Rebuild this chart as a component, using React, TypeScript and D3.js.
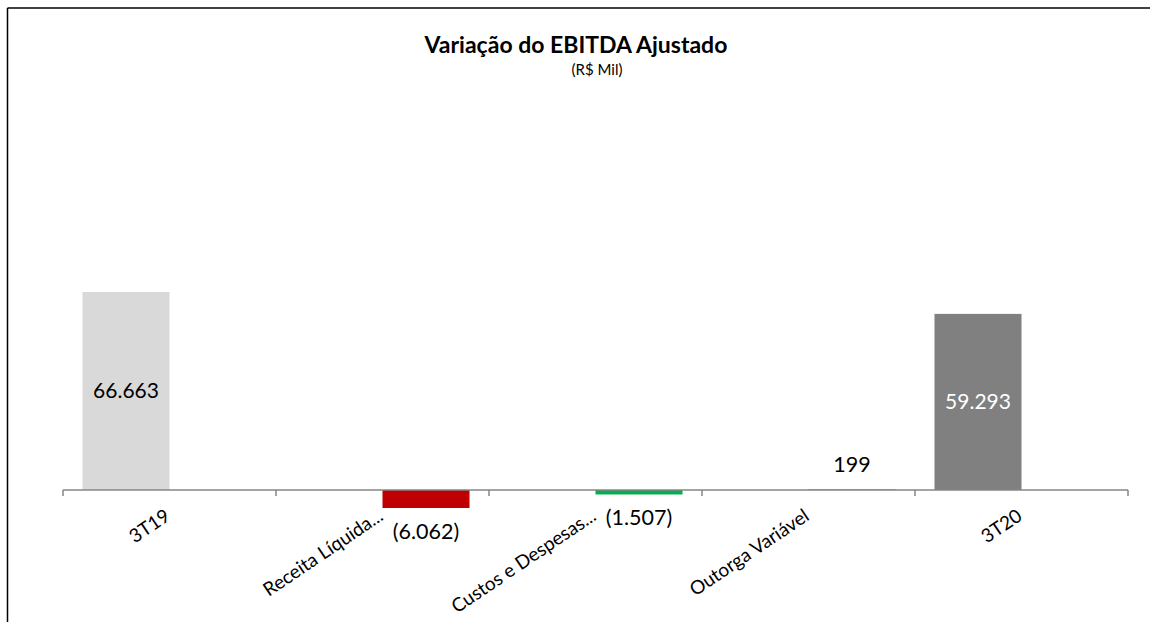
import React from 'react';
import * as d3 from 'd3';

const categories = ['3T19', 'Receita Líquida...', 'Custos e Despesas...', 'Outorga Variável', '3T20'];
const totals: (number | null)[] = [66663, null, null, null, 59293];
const deltas: (number | null)[] = [null, -6062, -1507, 199, null];
const deltaColors = ['none', '#C00000', '#00B050', '#00B050', 'none'];
const totalColors = ['#D9D9D9', 'none', 'none', 'none', '#808080'];
const totalLabelColors = ['#000000', '', '', '', '#FFFFFF'];

const W = 1150;
const H = 622;
const font = 'Lato, Calibri, sans-serif';

const ptBR = d3.formatLocale({ decimal: ',', thousands: '.', grouping: [3], currency: ['R$', ''] });
const fmt = (v: number) => (v < 0 ? `(${ptBR.format(',')(-v)})` : ptBR.format(',')(v));

export default function App() {
  const x = d3.scaleBand<string>().domain(categories).range([63, 1128]).padding(0);
  const sub = d3
    .scaleBand<string>()
    .domain(['total', 'delta'])
    .range([0, x.bandwidth()])
    .paddingInner(0)
    .paddingOuter(0.224);
  const y = d3.scaleLinear().domain([-10000, 80000]).range([519.7, 252.4]);
  const y0 = y(0);

  const ticks = categories.map(c => x(c)!).concat([x.range()[1]]);

  return (
    <svg width={W} height={H} style={{ position: 'absolute', left: 0, top: 0, background: '#fff' }} fontFamily={font}>
      <rect x={0} y={0} width={W} height={H} fill="#fff" />
      {/* borda */}
      <line x1={7.5} y1={8} x2={W} y2={8} stroke="#000" strokeWidth={1.5} />
      <line x1={7.5} y1={8} x2={7.5} y2={H} stroke="#000" strokeWidth={1.5} />

      <text x={576} y={53} textAnchor="middle" fontSize={23} fontWeight="bold" fill="#000">
        Variação do EBITDA Ajustado
      </text>
      <text x={597} y={75} textAnchor="middle" fontSize={15} fill="#000">
        (R$ Mil)
      </text>

      {/* barras totais */}
      {categories.map((c, i) => {
        const v = totals[i];
        if (v == null) return null;
        const bx = x(c)! + sub('total')!;
        return (
          <g key={'t' + c}>
            <rect x={bx} y={y(v)} width={sub.bandwidth()} height={y0 - y(v)} fill={totalColors[i]} />
            <text
              x={bx + sub.bandwidth() / 2}
              y={(y(v) + y0) / 2}
              dy="0.35em"
              textAnchor="middle"
              fontSize={21}
              fill={totalLabelColors[i]}
            >
              {fmt(v)}
            </text>
          </g>
        );
      })}

      {/* variações */}
      {categories.map((c, i) => {
        const v = deltas[i];
        if (v == null) return null;
        const bx = x(c)! + sub('delta')!;
        const top = Math.min(y(v), y0);
        const bottom = Math.max(y(v), y0);
        const ly = v < 0 ? bottom + 23 : top - 25;
        return (
          <g key={'d' + c}>
            <rect x={bx} y={top} width={sub.bandwidth()} height={bottom - top} fill={deltaColors[i]} />
            <text x={bx + sub.bandwidth() / 2} y={ly} dy="0.35em" textAnchor="middle" fontSize={21.5} fill="#000">
              {fmt(v)}
            </text>
          </g>
        );
      })}

      {/* eixo */}
      <line x1={x.range()[0]} x2={x.range()[1]} y1={y0} y2={y0} stroke="#868686" strokeWidth={1.5} />
      {ticks.map((t, i) => (
        <line key={i} x1={t} x2={t} y1={y0} y2={y0 + 6} stroke="#868686" strokeWidth={1.5} />
      ))}
      {categories.map(c => (
        <text
          key={'l' + c}
          transform={`translate(${x(c)! + x.bandwidth() / 2 + 2},519) rotate(-34)`}
          textAnchor="end"
          fontSize={19}
          fill="#000"
        >
          {c}
        </text>
      ))}
    </svg>
  );
}
